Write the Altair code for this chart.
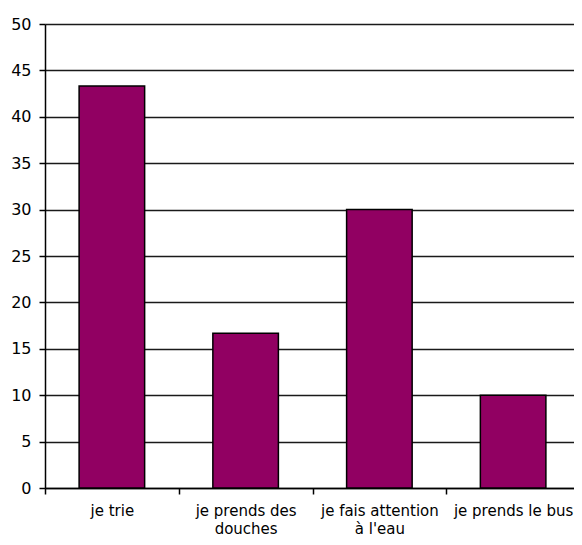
import altair as alt
import pandas as pd

categories = ["je trie", "je prends des|douches", "je fais attention|à l'eau", "je prends le bus"]
values = [43.33, 16.67, 30.0, 10.0]
y_ticks = [0, 5, 10, 15, 20, 25, 30, 35, 40, 45, 50]

df = pd.DataFrame({"cat": categories, "val": values})

font = "DejaVu Sans"

chart = alt.Chart(df).mark_bar(
    color="#910062", stroke="#000000", strokeWidth=1.5, width={"band": 0.49}
).encode(
    x=alt.X("cat:N", sort=categories, title=None,
            scale=alt.Scale(paddingInner=0, paddingOuter=0, range=[0, 535]),
            axis=alt.Axis(labelAngle=0, tickBand="extent", tickSize=6, tickColor="#000",
                          tickWidth=1.5, domainColor="#000", domainWidth=1.5,
                          labelFont=font, labelFontSize=15, labelColor="#000",
                          labelPadding=9, labelLineHeight=18,
                          labelExpr="datum.value ? split(datum.value, '|') : ''", grid=False)),
    y=alt.Y("val:Q", title=None,
            scale=alt.Scale(domain=[0, 50], nice=False),
            axis=alt.Axis(values=y_ticks, tickSize=6, tickColor="#000", tickWidth=1.5,
                          domainColor="#000", domainWidth=1.5,
                          labelFont=font, labelFontSize=16, labelColor="#000",
                          labelPadding=8, grid=True, gridColor="#1a1a1a",
                          gridWidth=1.5, gridOpacity=1)),
).properties(
    width=529, height=464,
    autosize=alt.AutoSizeParams(type="none"),
    padding={"left": 37, "top": 16, "right": 0, "bottom": 49},
).configure_view(stroke=None)

chart.save("out.html", embed_options={"renderer": "svg", "actions": False})
